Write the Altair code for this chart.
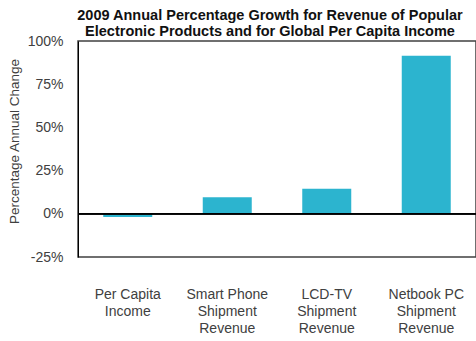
import altair as alt
import pandas as pd

categories = ["Per Capita|Income", "Smart Phone|Shipment|Revenue", "LCD-TV|Shipment|Revenue", "Netbook PC|Shipment|Revenue"]
values = [-1.8, 9.6, 14.5, 91.4]
y_ticks = [-25, 0, 25, 50, 75, 100]

df = pd.DataFrame({"cat": categories, "val": values})

base = alt.Chart(df)

bars = base.mark_bar(color="#2CB4CF", size=49).encode(
    x=alt.X("cat:N", sort=None, title=None,
            scale=alt.Scale(paddingInner=0.5, paddingOuter=0.25),
            axis=alt.Axis(labelExpr="split(datum.label, '|')", labelAngle=0,
                          labelFontSize=14, labelColor="#404040", labelFont="Liberation Sans",
                          labelLineHeight=17, labelPadding=30, ticks=False, domain=False,
                          labelBaseline="top")),
    y=alt.Y("val:Q", title="Percentage Annual Change",
            scale=alt.Scale(domain=[-25, 100], nice=False, zero=False),
            axis=alt.Axis(values=y_ticks, labelExpr="datum.value + '%'", grid=False, ticks=False,
                          domainColor="#000000", labelFontSize=14, labelColor="#404040",
                          labelFont="Liberation Sans", labelPadding=15,
                          titleFont="Liberation Sans", titleFontSize=13.5, titleFontWeight="normal",
                          titleColor="#404040", titleX=-64, titleY=100, titleAngle=-90,
                          titleAlign="center", titleBaseline="middle")),
)

zero = base.mark_rule(color="#000000", strokeWidth=1.2).encode(y=alt.datum(0))

chart = (bars + zero).properties(
    width=398, height=216,
    autosize=alt.AutoSizeParams(type="none"),
    padding={"left": 78, "top": 41, "right": 0, "bottom": 84},
    title=alt.TitleParams(
        ["2009 Annual Percentage Growth for Revenue of Popular",
         "Electronic Products and for Global Per Capita Income"],
        font="Liberation Sans", fontSize=14.5, fontWeight="bold", color="#111111",
        anchor="middle", frame="group", dx=-7, offset=-5, lineHeight=16,
    ),
).configure_view(stroke="#404040", strokeWidth=1.5)

chart.save("out.html", embed_options={"renderer": "svg", "actions": False})
